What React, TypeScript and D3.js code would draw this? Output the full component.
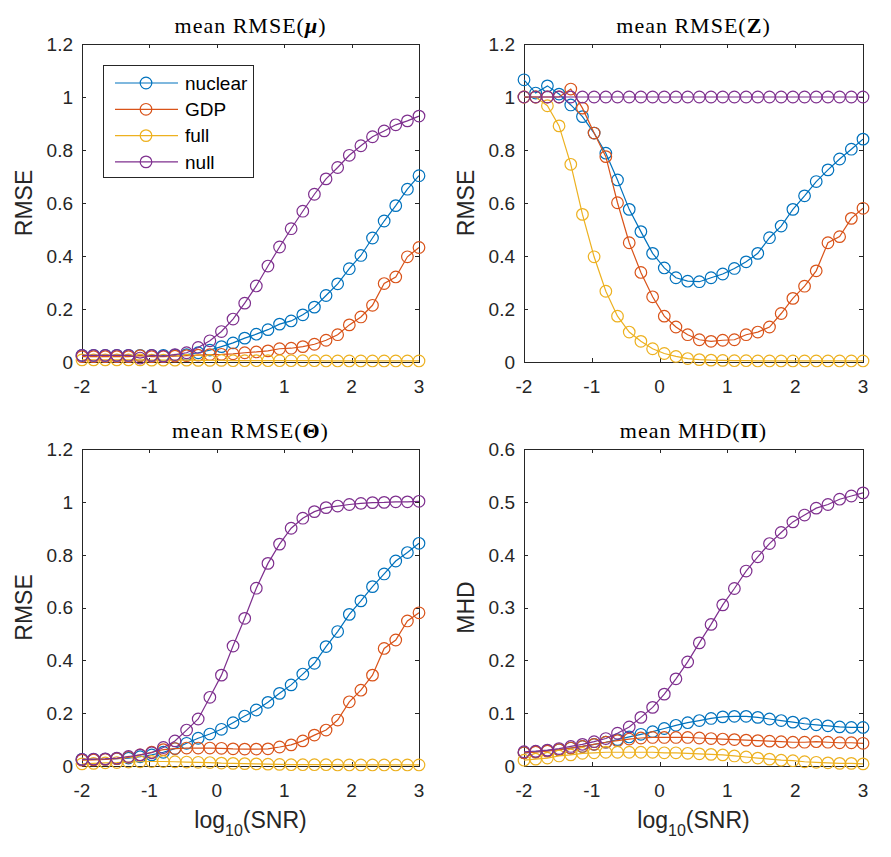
import React, { useRef, useEffect } from 'react';
import * as d3 from 'd3';

// log10(SNR) grid, 30 points from -2 to 3
const logSnr = [
  -2.0, -1.828, -1.655, -1.483, -1.31, -1.138, -0.966, -0.793, -0.621, -0.448,
  -0.276, -0.103, 0.069, 0.241, 0.414, 0.586, 0.759, 0.931, 1.103, 1.276,
  1.448, 1.621, 1.793, 1.966, 2.138, 2.31, 2.483, 2.655, 2.828, 3.0,
];

const seriesNames = ['nuclear', 'GDP', 'full', 'null'];
const seriesColors = ['#0072BD', '#D95319', '#EDB120', '#7E2F8E'];
const xTicks = [-2, -1, 0, 1, 2, 3];

// mean RMSE(mu)
const muNuclear = [0.025, 0.025, 0.025, 0.025, 0.025, 0.025, 0.025, 0.025, 0.026, 0.028, 0.035, 0.045, 0.058, 0.072, 0.09, 0.105, 0.122, 0.143, 0.155, 0.178, 0.207, 0.251, 0.295, 0.352, 0.402, 0.468, 0.532, 0.59, 0.652, 0.703];
const muGdp = [0.02, 0.02, 0.02, 0.02, 0.02, 0.024, 0.02, 0.02, 0.022, 0.024, 0.026, 0.028, 0.029, 0.031, 0.035, 0.038, 0.042, 0.05, 0.052, 0.058, 0.067, 0.082, 0.103, 0.14, 0.17, 0.214, 0.296, 0.321, 0.397, 0.432];
const muFull = [0.008, 0.008, 0.008, 0.008, 0.008, 0.008, 0.007, 0.007, 0.007, 0.007, 0.006, 0.006, 0.006, 0.005, 0.005, 0.005, 0.005, 0.005, 0.005, 0.005, 0.005, 0.004, 0.004, 0.004, 0.004, 0.004, 0.004, 0.004, 0.004, 0.004];
const muNull = [0.025, 0.025, 0.025, 0.025, 0.025, 0.015, 0.025, 0.022, 0.028, 0.035, 0.055, 0.08, 0.115, 0.162, 0.222, 0.287, 0.362, 0.434, 0.503, 0.569, 0.633, 0.691, 0.734, 0.78, 0.816, 0.85, 0.872, 0.895, 0.91, 0.928];

// mean RMSE(Z)
const zNuclear = [1.065, 1.015, 1.042, 1.011, 0.97, 0.926, 0.864, 0.788, 0.687, 0.576, 0.492, 0.41, 0.355, 0.318, 0.305, 0.303, 0.318, 0.332, 0.353, 0.378, 0.41, 0.469, 0.513, 0.576, 0.627, 0.681, 0.725, 0.766, 0.803, 0.841];
const zGdp = [1.0, 1.0, 1.0, 1.0, 1.03, 0.958, 0.864, 0.775, 0.601, 0.45, 0.338, 0.246, 0.173, 0.132, 0.103, 0.084, 0.078, 0.082, 0.084, 0.103, 0.113, 0.132, 0.183, 0.24, 0.286, 0.344, 0.45, 0.473, 0.542, 0.58];
const zFull = [1.0, 1.0, 0.967, 0.891, 0.746, 0.557, 0.397, 0.267, 0.173, 0.113, 0.078, 0.05, 0.032, 0.021, 0.013, 0.009, 0.007, 0.006, 0.005, 0.005, 0.004, 0.004, 0.004, 0.004, 0.004, 0.004, 0.004, 0.004, 0.004, 0.004];
const zNull = [1.0, 1.0, 1.0, 1.0, 1.0, 1.0, 1.0, 1.0, 1.0, 1.0, 1.0, 1.0, 1.0, 1.0, 1.0, 1.0, 1.0, 1.0, 1.0, 1.0, 1.0, 1.0, 1.0, 1.0, 1.0, 1.0, 1.0, 1.0, 1.0, 1.0];

// mean RMSE(Theta)
const thNuclear = [0.025, 0.025, 0.026, 0.028, 0.03, 0.035, 0.042, 0.052, 0.066, 0.086, 0.105, 0.121, 0.139, 0.164, 0.189, 0.212, 0.241, 0.275, 0.307, 0.348, 0.389, 0.452, 0.509, 0.574, 0.625, 0.679, 0.727, 0.776, 0.808, 0.843];
const thGdp = [0.022, 0.023, 0.025, 0.028, 0.033, 0.042, 0.052, 0.062, 0.066, 0.068, 0.068, 0.068, 0.067, 0.065, 0.064, 0.064, 0.065, 0.072, 0.08, 0.095, 0.117, 0.136, 0.174, 0.243, 0.287, 0.344, 0.445, 0.477, 0.549, 0.58];
const thFull = [0.008, 0.01, 0.012, 0.013, 0.015, 0.016, 0.017, 0.017, 0.016, 0.015, 0.014, 0.013, 0.011, 0.01, 0.009, 0.008, 0.007, 0.006, 0.005, 0.005, 0.005, 0.005, 0.004, 0.004, 0.004, 0.004, 0.004, 0.004, 0.004, 0.004];
const thNull = [0.025, 0.026, 0.027, 0.03, 0.036, 0.042, 0.05, 0.07, 0.095, 0.136, 0.178, 0.26, 0.344, 0.454, 0.559, 0.673, 0.767, 0.84, 0.9, 0.938, 0.963, 0.978, 0.984, 0.99, 0.994, 0.997, 0.998, 1.0, 1.0, 1.002];

// mean MHD(Pi)
const piNuclear = [0.025, 0.027, 0.029, 0.031, 0.034, 0.037, 0.041, 0.045, 0.05, 0.055, 0.06, 0.065, 0.071, 0.077, 0.082, 0.086, 0.09, 0.093, 0.094, 0.094, 0.092, 0.089, 0.086, 0.083, 0.08, 0.078, 0.076, 0.074, 0.073, 0.073];
const piGdp = [0.025, 0.026, 0.028, 0.031, 0.034, 0.037, 0.041, 0.045, 0.048, 0.051, 0.053, 0.054, 0.054, 0.054, 0.054, 0.053, 0.052, 0.051, 0.05, 0.049, 0.048, 0.047, 0.046, 0.045, 0.045, 0.046, 0.045, 0.044, 0.044, 0.043];
const piFull = [0.011, 0.013, 0.015, 0.019, 0.021, 0.024, 0.025, 0.026, 0.026, 0.026, 0.026, 0.026, 0.025, 0.025, 0.024, 0.023, 0.022, 0.021, 0.019, 0.017, 0.015, 0.013, 0.011, 0.01, 0.008, 0.007, 0.006, 0.005, 0.005, 0.004];
const piNull = [0.027, 0.028, 0.03, 0.033, 0.037, 0.041, 0.046, 0.052, 0.062, 0.074, 0.092, 0.111, 0.136, 0.165, 0.197, 0.233, 0.268, 0.305, 0.336, 0.369, 0.396, 0.421, 0.442, 0.462, 0.475, 0.488, 0.495, 0.505, 0.511, 0.517];

const rmseTicks = [0, 0.2, 0.4, 0.6, 0.8, 1, 1.2];
const mhdTicks = [0, 0.1, 0.2, 0.3, 0.4, 0.5, 0.6];

const axisColor = '#262626';
const sansFont = '"Liberation Sans", Arial, Helvetica, sans-serif';
const serifFont = '"Liberation Serif", "Times New Roman", serif';
const markerR = 5.8;
const strokeW = 1.2;

function App() {
  const svgRef = useRef<SVGSVGElement>(null);

  useEffect(() => {
    const svg = d3.select(svgRef.current);
    svg.selectAll('*').remove();

    const panels = [
      { pre: 'mean RMSE(', sym: 'μ', italic: true, yLabel: 'RMSE', yTicks: rmseTicks, series: [muNuclear, muGdp, muFull, muNull], left: 82, top: 44, w: 337, h: 318, xLabel: false, legend: true },
      { pre: 'mean RMSE(', sym: 'Z', italic: false, yLabel: 'RMSE', yTicks: rmseTicks, series: [zNuclear, zGdp, zFull, zNull], left: 524, top: 44, w: 339, h: 318, xLabel: false, legend: false },
      { pre: 'mean RMSE(', sym: 'Θ', italic: false, yLabel: 'RMSE', yTicks: rmseTicks, series: [thNuclear, thGdp, thFull, thNull], left: 82, top: 449, w: 337, h: 317, xLabel: true, legend: false },
      { pre: 'mean MHD(', sym: 'Π', italic: false, yLabel: 'MHD', yTicks: mhdTicks, series: [piNuclear, piGdp, piFull, piNull], left: 524, top: 449, w: 339, h: 317, xLabel: true, legend: false },
    ];

    panels.forEach(p => {
      const g = svg.append('g');
      const x = d3.scaleLinear().domain([-2, 3]).range([p.left, p.left + p.w]);
      const y = d3.scaleLinear().domain([0, p.yTicks[p.yTicks.length - 1]]).range([p.top + p.h, p.top]);
      const x0 = p.left, x1 = p.left + p.w, y0 = p.top + p.h, y1 = p.top;

      // ticks (inside, all four sides)
      xTicks.forEach(t => {
        const xx = Math.round(x(t)) + 0.5;
        g.append('line').attr('x1', xx).attr('x2', xx).attr('y1', y0).attr('y2', y0 - 4).attr('stroke', axisColor);
        g.append('line').attr('x1', xx).attr('x2', xx).attr('y1', y1).attr('y2', y1 + 4).attr('stroke', axisColor);
        g.append('text')
          .attr('x', x(t)).attr('y', y0 + 31)
          .attr('text-anchor', 'middle')
          .attr('font-family', sansFont).attr('font-size', 19).attr('fill', axisColor)
          .text(String(t));
      });
      p.yTicks.forEach(t => {
        const yy = Math.round(y(t)) + 0.5;
        g.append('line').attr('x1', x0).attr('x2', x0 + 4).attr('y1', yy).attr('y2', yy).attr('stroke', axisColor);
        g.append('line').attr('x1', x1).attr('x2', x1 - 4).attr('y1', yy).attr('y2', yy).attr('stroke', axisColor);
        g.append('text')
          .attr('x', x0 - 9).attr('y', y(t)).attr('dy', '0.36em')
          .attr('text-anchor', 'end')
          .attr('font-family', sansFont).attr('font-size', 19).attr('fill', axisColor)
          .text(String(+t.toFixed(1)));
      });

      // box
      g.append('rect')
        .attr('x', x0 + 0.5).attr('y', y1 + 0.5)
        .attr('width', p.w).attr('height', p.h)
        .attr('fill', 'none').attr('stroke', axisColor).attr('stroke-width', 1);

      // series
      const line = d3.line<number>().x((_, i) => x(logSnr[i])).y(d => y(d));
      p.series.forEach((vals, si) => {
        const s = g.append('g');
        s.append('path').attr('d', line(vals)).attr('fill', 'none')
          .attr('stroke', seriesColors[si]).attr('stroke-width', strokeW);
        s.selectAll('circle').data(vals).enter().append('circle')
          .attr('cx', (_, i) => x(logSnr[i])).attr('cy', d => y(d))
          .attr('r', markerR).attr('fill', 'none')
          .attr('stroke', seriesColors[si]).attr('stroke-width', strokeW);
      });

      // title
      const title = g.append('text')
        .attr('x', (x0 + x1) / 2).attr('y', p.top - 11)
        .attr('text-anchor', 'middle')
        .attr('font-family', serifFont).attr('font-size', 22).attr('letter-spacing', 1)
        .attr('fill', '#000');
      title.append('tspan').text(p.pre);
      title.append('tspan').attr('font-weight', 'bold').attr('font-style', p.italic ? 'italic' : 'normal').text(p.sym);
      title.append('tspan').text(')');

      // y label
      const cy = (y0 + y1) / 2;
      g.append('text')
        .attr('transform', `translate(${x0 - 58},${cy}) rotate(-90)`)
        .attr('text-anchor', 'middle').attr('dy', '0.36em')
        .attr('font-family', sansFont).attr('font-size', 23).attr('fill', axisColor)
        .text(p.yLabel);

      // x label
      if (p.xLabel) {
        const xl = g.append('text')
          .attr('x', (x0 + x1) / 2).attr('y', y0 + 62)
          .attr('text-anchor', 'middle')
          .attr('font-family', sansFont).attr('font-size', 23).attr('fill', axisColor);
        xl.append('tspan').text('log');
        xl.append('tspan').attr('font-size', 16).attr('dy', 8).text('10');
        xl.append('tspan').attr('dy', -8).text('(SNR)');
      }

      // legend
      if (p.legend) {
        const lg = g.append('g');
        lg.append('rect').attr('x', 103.5).attr('y', 65.5).attr('width', 150).attr('height', 112)
          .attr('fill', '#fff').attr('stroke', axisColor).attr('stroke-width', 1);
        seriesNames.forEach((name, i) => {
          const ly = 83 + i * 26.3;
          lg.append('line').attr('x1', 115).attr('x2', 178).attr('y1', ly).attr('y2', ly)
            .attr('stroke', seriesColors[i]).attr('stroke-width', strokeW);
          lg.append('circle').attr('cx', 146).attr('cy', ly).attr('r', markerR)
            .attr('fill', 'none').attr('stroke', seriesColors[i]).attr('stroke-width', strokeW);
          lg.append('text').attr('x', 185).attr('y', ly).attr('dy', '0.36em')
            .attr('font-family', sansFont).attr('font-size', 19).attr('fill', '#000')
            .text(name);
        });
      }
    });
  }, []);

  return (
    <svg
      ref={svgRef}
      width={891}
      height={857}
      style={{ position: 'absolute', left: 0, top: 0, background: '#fff' }}
    />
  );
}

export default App;
